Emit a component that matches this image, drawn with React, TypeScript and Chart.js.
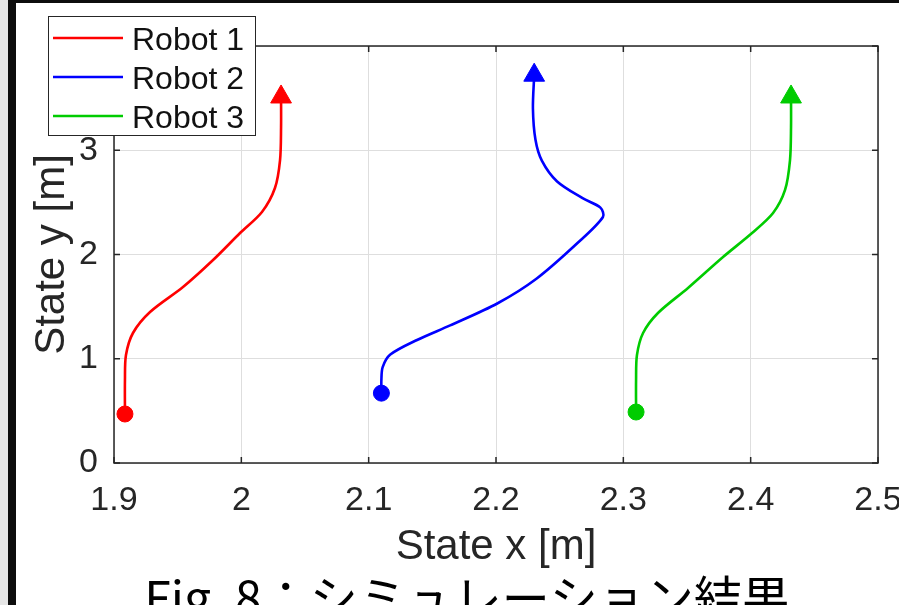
import React, { useEffect, useRef } from 'react';
import { Chart, registerables } from 'chart.js';

Chart.register(...registerables);

const seriesNames = ['Robot 1', 'Robot 2', 'Robot 3'];
const seriesColors = ['#ff0000', '#0000ff', '#00cc00'];

const robot1X = [1.9086, 1.9086, 1.9094, 1.9149, 1.9283, 1.9542, 1.9778, 1.9990, 2.0162, 2.0264, 2.0304, 2.0312, 2.0312];
const robot1Y = [0.470, 0.796, 1.036, 1.247, 1.448, 1.688, 1.947, 2.206, 2.408, 2.638, 2.906, 3.223, 3.511];

const robot2X = [2.110, 2.110, 2.111, 2.117, 2.138, 2.164, 2.201, 2.232, 2.264, 2.284, 2.282, 2.268, 2.248, 2.236, 2.231, 2.229, 2.230];
const robot2Y = [0.67, 0.80, 0.92, 1.04, 1.18, 1.32, 1.53, 1.77, 2.11, 2.36, 2.45, 2.54, 2.70, 2.90, 3.10, 3.40, 3.72];

const robot3X = [2.3100, 2.3100, 2.3107, 2.3155, 2.3272, 2.3508, 2.3783, 2.4011, 2.4176, 2.4270, 2.4309, 2.4317, 2.4317];
const robot3Y = [0.489, 0.796, 1.036, 1.247, 1.439, 1.679, 1.976, 2.206, 2.398, 2.619, 2.906, 3.223, 3.511];

const xTickLabels = ['1.9', '2', '2.1', '2.2', '2.3', '2.4', '2.5'];
const yTickLabels = ['0', '1', '2', '3', '4'];
const xTitle = 'State x [m]';
const yTitle = 'State y [m]';
const caption = 'Fig. 8：シミュレーション結果';

const FONT = '"Liberation Sans", Arial, sans-serif';
const AXIS_COLOR = '#262626';

function makeDataset(label: string, color: string, xs: number[], ys: number[]) {
  const n = xs.length;
  return {
    label,
    data: xs.map((x, i) => ({ x, y: ys[i] })),
    showLine: true,
    borderColor: color,
    backgroundColor: color,
    borderWidth: 2.6,
    tension: 0.3,
    pointRadius: xs.map((_, i) => (i === 0 ? 8 : i === n - 1 ? 12 : 0)),
    pointStyle: xs.map((_, i) => (i === n - 1 ? 'triangle' : 'circle')),
    pointBackgroundColor: color,
    pointBorderColor: color,
    pointBorderWidth: 1,
    pointHoverRadius: 0,
    clip: false as any,
  };
}

const decorPlugin = {
  id: 'decor',
  beforeDraw(chart: any) {
    const ctx = chart.ctx;
    const W = chart.width;
    const H = chart.height;
    ctx.save();
    ctx.fillStyle = '#ffffff';
    ctx.fillRect(0, 0, W, H);
    ctx.fillStyle = '#e6e6e6';
    ctx.fillRect(0, 0, 8, H);
    ctx.fillStyle = '#0d0d0d';
    ctx.fillRect(8, 0, 8, H);
    ctx.fillRect(8, 0, W - 8, 3);
    ctx.restore();
  },
  afterDraw(chart: any) {
    const ctx = chart.ctx;
    const { left, right, top, bottom } = chart.chartArea;
    const xs = chart.scales.x;
    const ys = chart.scales.y;
    ctx.save();
    // axes box
    ctx.strokeStyle = AXIS_COLOR;
    ctx.lineWidth = 1.5;
    ctx.strokeRect(left, top, right - left, bottom - top);
    // inner tick marks
    ctx.beginPath();
    xs.ticks.forEach((t: any) => {
      const px = xs.getPixelForValue(t.value);
      ctx.moveTo(px, bottom);
      ctx.lineTo(px, bottom - 6);
      ctx.moveTo(px, top);
      ctx.lineTo(px, top + 6);
    });
    ys.ticks.forEach((t: any) => {
      const py = ys.getPixelForValue(t.value);
      ctx.moveTo(left, py);
      ctx.lineTo(left + 6, py);
      ctx.moveTo(right, py);
      ctx.lineTo(right - 6, py);
    });
    ctx.stroke();

    // legend
    const lx = 48, ly = 16, lw = 207, lh = 119;
    ctx.fillStyle = '#ffffff';
    ctx.fillRect(lx, ly, lw, lh);
    ctx.strokeStyle = AXIS_COLOR;
    ctx.lineWidth = 1;
    ctx.strokeRect(lx + 0.5, ly + 0.5, lw, lh);
    chart.data.datasets.forEach((ds: any, i: number) => {
      const rowY = 38 + i * 39;
      ctx.strokeStyle = ds.borderColor;
      ctx.lineWidth = 2.5;
      ctx.beginPath();
      ctx.moveTo(53, rowY);
      ctx.lineTo(123, rowY);
      ctx.stroke();
      ctx.fillStyle = '#111111';
      ctx.font = `32px ${FONT}`;
      ctx.textAlign = 'left';
      ctx.textBaseline = 'alphabetic';
      ctx.fillText(ds.label, 132, rowY + 12);
    });

    // caption
    ctx.fillStyle = '#000000';
    ctx.font = '48px "Noto Sans CJK JP", sans-serif';
    ctx.textAlign = 'center';
    ctx.textBaseline = 'alphabetic';
    ctx.fillText(caption, 467, 616);
    ctx.restore();
  },
};

export default function App() {
  const ref = useRef<HTMLCanvasElement>(null);
  useEffect(() => {
    document.body.style.margin = '0';
    const datasets = [
      makeDataset(seriesNames[0], seriesColors[0], robot1X, robot1Y),
      makeDataset(seriesNames[1], seriesColors[1], robot2X, robot2Y),
      makeDataset(seriesNames[2], seriesColors[2], robot3X, robot3Y),
    ];
    const chart = new Chart(ref.current as HTMLCanvasElement, {
      type: 'scatter',
      data: { datasets } as any,
      options: {
        animation: false,
        responsive: false,
        devicePixelRatio: 1,
        layout: { padding: { left: 0, top: 46, right: 21, bottom: 0 } },
        plugins: { legend: { display: false }, tooltip: { enabled: false } },
        events: [],
        scales: {
          x: {
            type: 'linear',
            min: 1.9,
            max: 2.5,
            ticks: {
              stepSize: 0.1,
              autoSkip: false,
              maxRotation: 0,
              padding: 17,
              color: AXIS_COLOR,
              font: { family: FONT, size: 34 },
              callback: (_v: any, i: number) => xTickLabels[i],
            },
            grid: { color: '#dedede', lineWidth: 1, drawTicks: false },
            border: { display: false },
            title: {
              display: true,
              text: xTitle,
              color: AXIS_COLOR,
              font: { family: FONT, size: 42 },
              padding: { top: 0, bottom: 32 },
            },
            afterFit: (s: any) => {
              s.height = 142;
              s.paddingLeft = 0;
              s.paddingRight = 0;
            },
          },
          y: {
            type: 'linear',
            min: 0,
            max: 4,
            ticks: {
              stepSize: 1,
              autoSkip: false,
              padding: 16,
              color: AXIS_COLOR,
              font: { family: FONT, size: 34 },
              callback: (_v: any, i: number) => yTickLabels[i],
            },
            grid: { color: '#dedede', lineWidth: 1, drawTicks: false },
            border: { display: false },
            title: {
              display: true,
              text: yTitle,
              color: AXIS_COLOR,
              font: { family: FONT, size: 42 },
              padding: { top: 27, bottom: 0 },
            },
            afterFit: (s: any) => {
              s.width = 114;
              s.paddingTop = 0;
              s.paddingBottom = 0;
            },
          },
        },
      } as any,
      plugins: [decorPlugin],
    });
    return () => chart.destroy();
  }, []);
  return (
    <div style={{ width: 899, height: 605, position: 'relative', overflow: 'hidden' }}>
      <canvas ref={ref} width={899} height={605} style={{ display: 'block' }} />
    </div>
  );
}
